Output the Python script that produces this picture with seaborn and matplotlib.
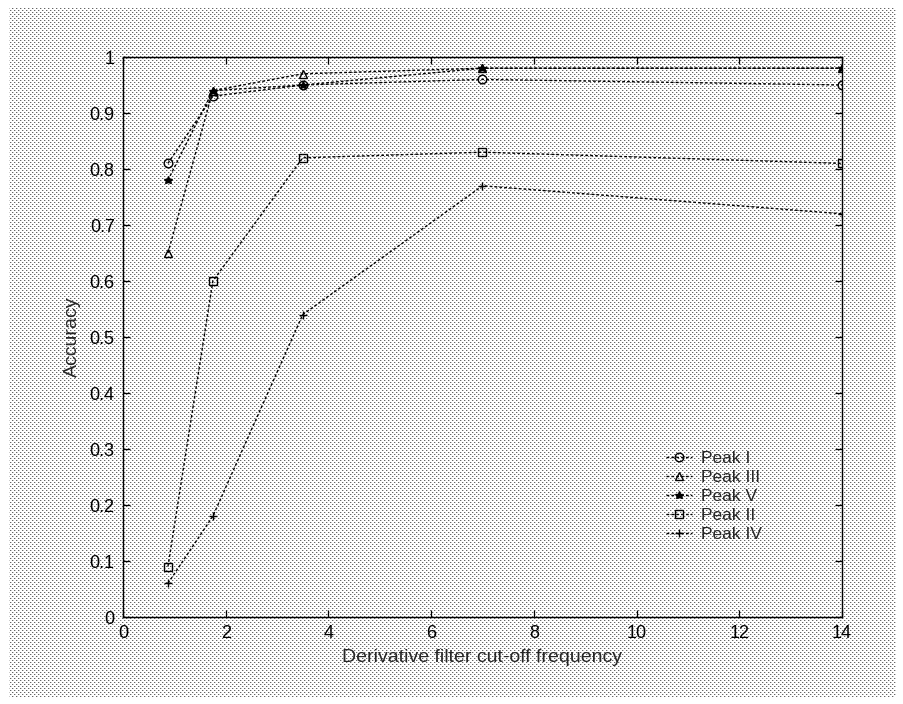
import numpy as np
import pandas as pd
import matplotlib
matplotlib.use("Agg")
import matplotlib.pyplot as plt
import seaborn as sns

# ---- data ----
freq = [0.875, 1.75, 3.5, 7, 14]
series_names = ["Peak I", "Peak III", "Peak V", "Peak II", "Peak IV"]
peak_I = [0.81, 0.93, 0.95, 0.96, 0.95]
peak_III = [0.65, 0.94, 0.97, 0.98, 0.98]
peak_V = [0.78, 0.94, 0.95, 0.98, 0.98]
peak_II = [0.09, 0.60, 0.82, 0.83, 0.81]
peak_IV = [0.06, 0.18, 0.54, 0.77, 0.72]
x_ticks = [0, 2, 4, 6, 8, 10, 12, 14]
y_ticks = [0, 0.1, 0.2, 0.3, 0.4, 0.5, 0.6, 0.7, 0.8, 0.9, 1]
y_tick_labels = ["0", "0.1", "0.2", "0.3", "0.4", "0.5", "0.6", "0.7", "0.8", "0.9", "1"]

values = [peak_I, peak_III, peak_V, peak_II, peak_IV]
df = pd.DataFrame({
    "freq": np.tile(freq, len(series_names)),
    "acc": np.concatenate(values),
    "series": np.repeat(series_names, len(freq)),
})

sns.set_style("ticks")
plt.rcParams["font.family"] = ["Liberation Sans", "DejaVu Sans"]

W, H = 904, 704
fig = plt.figure(figsize=(W / 100, H / 100), dpi=100, facecolor="white")

# halftone-like background
img = np.ones((H, W))
yy, xx = np.mgrid[0:H, 0:W]
dots = ((yy % 4 == 0) & (xx % 4 == 0)) | ((yy % 4 == 2) & (xx % 4 == 2))
img[dots] = 0.4
side = ((yy % 4 == 0) & (xx % 4 == 1)) | ((yy % 4 == 2) & (xx % 4 == 3))
img[side] = 0.8
border = (xx < 9) | (xx > W - 9) | (yy < 7) | (yy > H - 7)
img[border] = 1.0
fig.figimage(img, xo=0, yo=0, cmap="gray", vmin=0, vmax=1, origin="upper", zorder=-5)

ax = fig.add_axes([123 / W, 1 - 617 / H, (842 - 123) / W, (617 - 57) / H])
ax.patch.set_alpha(0)

markers = {"Peak I": "o", "Peak III": "^", "Peak V": "*", "Peak II": "s", "Peak IV": "+"}
for name in series_names:
    sub = df[df["series"] == name]
    sns.lineplot(data=sub, x="freq", y="acc", ax=ax, color="black",
                 linestyle=(0, (2, 1.5)), linewidth=1.0,
                 marker=markers[name], markersize=6.2,
                 markerfacecolor="none" if name not in ("Peak V", "Peak IV") else "black",
                 markeredgecolor="black", markeredgewidth=1.0, label=name)

ax.set_xlim(0, 14)
ax.set_ylim(0, 1)
ax.set_xticks(x_ticks)
ax.set_xticklabels([str(t) for t in x_ticks])
ax.set_yticks(y_ticks)
ax.set_yticklabels(y_tick_labels)
ax.tick_params(direction="in", length=5, width=0.9, top=True, right=True,
               labelsize=13, colors="black", pad=6)
for sp in ax.spines.values():
    sp.set_visible(True)
    sp.set_color("black")
    sp.set_linewidth(1.0)

ax.set_xlabel("Derivative filter cut-off frequency", fontsize=14, labelpad=5)
ax.set_ylabel("Accuracy", fontsize=14, labelpad=6)

leg = ax.legend(loc="upper left", bbox_to_anchor=(0.755, 0.297), frameon=False,
                borderaxespad=0, borderpad=0, fontsize=12.5, handlelength=1.5,
                handletextpad=0.55, labelspacing=0.22)

fig.savefig("out.png", dpi=100, facecolor="white")
